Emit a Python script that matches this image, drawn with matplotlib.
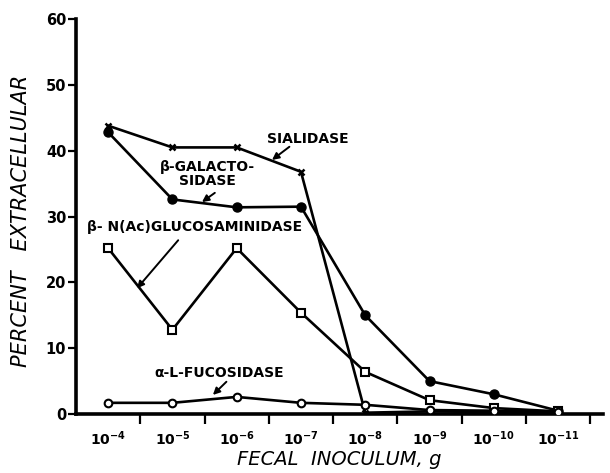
import matplotlib.pyplot as plt
import numpy as np

# Dane
inoculum_labels = [r"$\mathbf{10^{-4}}$", r"$\mathbf{10^{-5}}$", r"$\mathbf{10^{-6}}$", r"$\mathbf{10^{-7}}$",
                   r"$\mathbf{10^{-8}}$", r"$\mathbf{10^{-9}}$", r"$\mathbf{10^{-10}}$", r"$\mathbf{10^{-11}}$"]
sialidase = [43.8, 40.5, 40.5, 36.8, 0.2, 0.4, 0.3, 0.3]
galactosidase = [42.8, 32.6, 31.4, 31.5, 15.0, 5.0, 3.0, 0.5]
glucosaminidase = [25.2, 12.8, 25.2, 15.4, 6.4, 2.1, 0.9, 0.4]
fucosidase = [1.7, 1.7, 2.6, 1.7, 1.4, 0.6, 0.5, 0.3]
y_ticks = [0, 10, 20, 30, 40, 50, 60]

plt.rcParams['mathtext.fontset'] = 'dejavusans'

fig = plt.figure(figsize=(6.1, 4.73), dpi=100)
ax = fig.add_axes([0.1246, 0.1247, 0.864, 0.835])

x = np.arange(len(inoculum_labels))
lw = 1.9
ax.plot(x, sialidase, color='k', lw=lw, marker='x', ms=5, mew=1.8, zorder=3)
ax.plot(x, galactosidase, color='k', lw=lw, marker='o', ms=6.5, mfc='k', zorder=3)
ax.plot(x, glucosaminidase, color='k', lw=lw, marker='s', ms=5.5, mfc='white', mew=1.5, zorder=4)
ax.plot(x, fucosidase, color='k', lw=lw, marker='o', ms=5.5, mfc='white', mew=1.5, zorder=4)

ax.set_xlim(-0.5, 7.7)
ax.set_ylim(0, 60)

for side in ['top', 'right']:
    ax.spines[side].set_visible(False)
for side in ['left', 'bottom']:
    ax.spines[side].set_linewidth(2.6)

ax.set_yticks(y_ticks)
ax.set_yticklabels([str(v) for v in y_ticks], fontweight='bold', fontsize=10.5)
ax.tick_params(axis='y', direction='out', length=6, width=1.6, pad=1)

# znaczniki osi X pomiędzy punktami, etykiety pod punktami
ax.set_xticks(x + 0.5)
ax.set_xticklabels([])
ax.tick_params(axis='x', which='major', direction='out', length=7, width=1.6)
ax.set_xticks(x, minor=True)
ax.set_xticklabels(inoculum_labels, minor=True, fontsize=10)
ax.tick_params(axis='x', which='minor', length=0, pad=11)

ax.set_ylabel("PERCENT   EXTRACELLULAR", fontstyle='italic', fontsize=15)
ax.yaxis.set_label_coords(-0.085, 0.49)
ax.set_xlabel("FECAL  INOCULUM, g", fontstyle='italic', fontsize=14)
ax.xaxis.set_label_coords(0.5, -0.092)

arrow = dict(arrowstyle='-|>', lw=1.4, color='k', mutation_scale=10, shrinkA=0, shrinkB=0)
font = dict(fontweight='bold', fontsize=10, ha='center', va='center')

ax.text(3.1, 41.8, "SIALIDASE", **font)
ax.annotate("", xy=(2.55, 38.6), xytext=(2.82, 40.6), arrowprops=arrow)
ax.text(1.54, 36.4, "β-GALACTO-\nSIDASE", linespacing=1.0, **font)
ax.annotate("", xy=(1.46, 32.2), xytext=(1.66, 33.6), arrowprops=arrow)
ax.text(1.34, 28.4, "β- N(Ac)GLUCOSAMINIDASE", **font)
ax.annotate("", xy=(0.45, 19.1), xytext=(1.09, 26.4), arrowprops=arrow)
ax.text(1.73, 6.2, "α-L-FUCOSIDASE", **font)
ax.annotate("", xy=(1.63, 2.9), xytext=(1.84, 4.9), arrowprops=arrow)

fig.savefig("out.png", dpi=100)
